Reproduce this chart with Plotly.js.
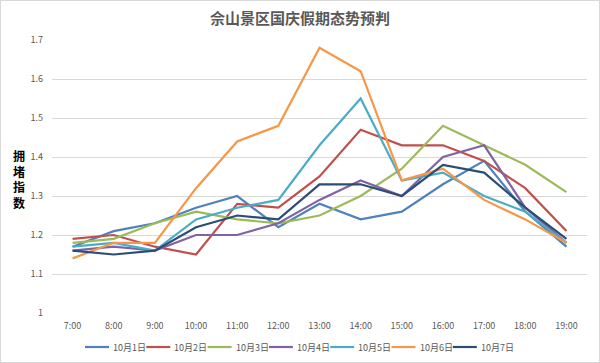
<!DOCTYPE html>
<html>
<head>
<meta charset="utf-8">
<script src="https://cdn.plot.ly/plotly-3.0.1.min.js"></script>
<style>
html,body{margin:0;padding:0;background:#fff;}
#chart{width:600px;height:363px;box-sizing:border-box;border:1px solid #d9d9d9;}
</style>
</head>
<body>
<div id="chart"></div>
<script>
const hours = ["7:00","8:00","9:00","10:00","11:00","12:00","13:00","14:00","15:00","16:00","17:00","18:00","19:00"];
const seriesNames = ["10月1日","10月2日","10月3日","10月4日","10月5日","10月6日","10月7日"];
const oct1 = [1.17,1.21,1.23,1.27,1.30,1.22,1.28,1.24,1.26,1.33,1.39,1.26,1.17];
const oct2 = [1.19,1.20,1.17,1.15,1.28,1.27,1.35,1.47,1.43,1.43,1.39,1.32,1.21];
const oct3 = [1.18,1.19,1.23,1.26,1.24,1.23,1.25,1.30,1.37,1.48,1.43,1.38,1.31];
const oct4 = [1.16,1.17,1.16,1.20,1.20,1.23,1.29,1.34,1.30,1.40,1.43,1.27,1.18];
const oct5 = [1.17,1.18,1.16,1.24,1.27,1.29,1.43,1.55,1.34,1.36,1.30,1.26,1.18];
const oct6 = [1.14,1.18,1.18,1.32,1.44,1.48,1.68,1.62,1.34,1.37,1.29,1.24,1.18];
const oct7 = [1.16,1.15,1.16,1.22,1.25,1.24,1.33,1.33,1.30,1.38,1.36,1.27,1.19];
const yTicks = [1,1.1,1.2,1.3,1.4,1.5,1.6,1.7];
const yTickText = ["1","1.1","1.2","1.3","1.4","1.5","1.6","1.7"];

const allValues = [oct1,oct2,oct3,oct4,oct5,oct6,oct7];
const colors = ["#4F81BD","#C0504D","#9BBB59","#8064A2","#4BACC6","#F79646","#2C4D75"];
const FONT = "'Noto Sans CJK SC', 'Liberation Sans', sans-serif";

const W = 598, H = 361, M = {l:51, r:12, t:39, b:49};
const plotW = W - M.l - M.r, plotH = H - M.t - M.b;

const traces = allValues.map((vals,i)=>({
  type:"scatter", mode:"lines", name:seriesNames[i],
  x:hours, y:vals, showlegend:false,
  line:{color:colors[i], width:2.2}
}));

// Excel-style legend built from the series names and colours
const legStartPx = 33, legPeriodPx = 61.3, legLinePx = 24, legYpx = 307;
const shapes = [], annotations = [];
seriesNames.forEach((name,i)=>{
  const x0 = (legStartPx + i*legPeriodPx)/plotW;
  const x1 = x0 + legLinePx/plotW;
  const y = -(legYpx - plotH)/plotH;
  shapes.push({type:"line", xref:"paper", yref:"paper", x0:x0, x1:x1, y0:y, y1:y,
               line:{color:colors[i], width:2.2}});
  annotations.push({text:name, xref:"paper", yref:"paper", x:x1 + 2/plotW, y:y,
                    xanchor:"left", yanchor:"middle", showarrow:false,
                    font:{family:FONT, size:9, color:"#595959"}});
});
annotations.push({text:"拥<br>堵<br>指<br>数", xref:"paper", yref:"paper", x:-0.062, y:0.49,
                  xanchor:"center", yanchor:"middle", showarrow:false, align:"center",
                  font:{family:FONT, size:12, color:"#000", weight:"bold"}});

const layout = {
  width:W, height:H,
  margin:{l:M.l, r:M.r, t:M.t, b:M.b, pad:0},
  paper_bgcolor:"#fff", plot_bgcolor:"#fff",
  font:{family:FONT, size:9, color:"#595959"},
  showlegend:false,
  title:{text:"佘山景区国庆假期态势预判", x:0.5, xanchor:"center", y:0.952, yanchor:"middle",
         font:{family:FONT, size:15, color:"#595959", weight:"bold"}},
  xaxis:{type:"category", range:[-0.5, hours.length-0.5],
         showgrid:false, zeroline:false, showline:false,
         ticks:"outside", ticklen:4, tickcolor:"rgba(0,0,0,0)",
         tickfont:{family:FONT, size:9, color:"#595959"}},
  yaxis:{range:[1,1.7], tickvals:yTicks, ticktext:yTickText, showgrid:true, gridcolor:"#d9d9d9", gridwidth:1,
         zeroline:false, showline:false, ticks:"", tickfont:{family:FONT, size:9, color:"#595959"}, ticklabelstandoff:8},
  shapes:shapes,
  annotations:annotations
};

Plotly.newPlot("chart", traces, layout, {displayModeBar:false, staticPlot:true});
</script>
</body>
</html>
